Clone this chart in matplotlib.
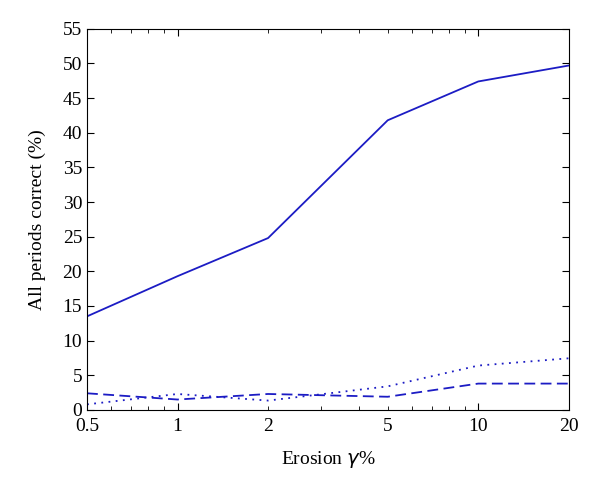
import matplotlib
matplotlib.use("Agg")
import matplotlib.pyplot as plt
from matplotlib.ticker import FixedLocator, FixedFormatter, FuncFormatter

# Datos
erosion = [0.5, 1, 2, 5, 10, 20]
solida = [13.5, 19.3, 24.8, 41.8, 47.4, 49.7]
discontinua = [2.4, 1.5, 2.3, 1.9, 3.8, 3.8]
punteada = [0.8, 2.3, 1.35, 3.4, 6.4, 7.45]
etiquetas_x = ["0.5", "1", "2", "5", "10", "20"]

plt.rcParams["font.family"] = ["Liberation Serif", "DejaVu Serif"]
color = "#1c1cc4"

fig = plt.figure(figsize=(6, 4.88), dpi=100)
ax = fig.add_axes([0.145, 0.16, 0.803, 0.781])

ax.plot(erosion, solida, color=color, linestyle="-", linewidth=1.3)
ax.plot(erosion, discontinua, color=color, linestyle=(0, (6, 3)), linewidth=1.3)
ax.plot(erosion, punteada, color=color, linestyle=(0, (1, 3)), linewidth=1.3)

ax.set_xscale("log")
ax.set_xlim(0.5, 20)
ax.set_ylim(0, 55)

# décadas como marcas largas, el resto como marcas cortas
etiquetas = dict(zip(erosion, etiquetas_x))
ax.xaxis.set_major_locator(FixedLocator([1, 10]))
ax.xaxis.set_major_formatter(FixedFormatter(["1", "10"]))
menores = [0.5, 0.6, 0.7, 0.8, 0.9, 2, 3, 4, 5, 6, 7, 8, 9, 20]
ax.xaxis.set_minor_locator(FixedLocator(menores))
ax.xaxis.set_minor_formatter(FuncFormatter(
    lambda v, p: etiquetas.get(round(v, 3), "")))
ax.set_yticks(range(0, 56, 5))

ax.tick_params(which="both", direction="in", top=True, right=True, labelsize=14)
ax.tick_params(which="major", length=5)
ax.tick_params(which="minor", length=3)
ax.tick_params(axis="x", which="both", pad=6)

ax.set_xlabel("Erosion $\\gamma$%", fontsize=14, labelpad=10)
ax.set_ylabel("All periods correct (%)", fontsize=14, labelpad=12)

fig.savefig("out.png", dpi=100)
